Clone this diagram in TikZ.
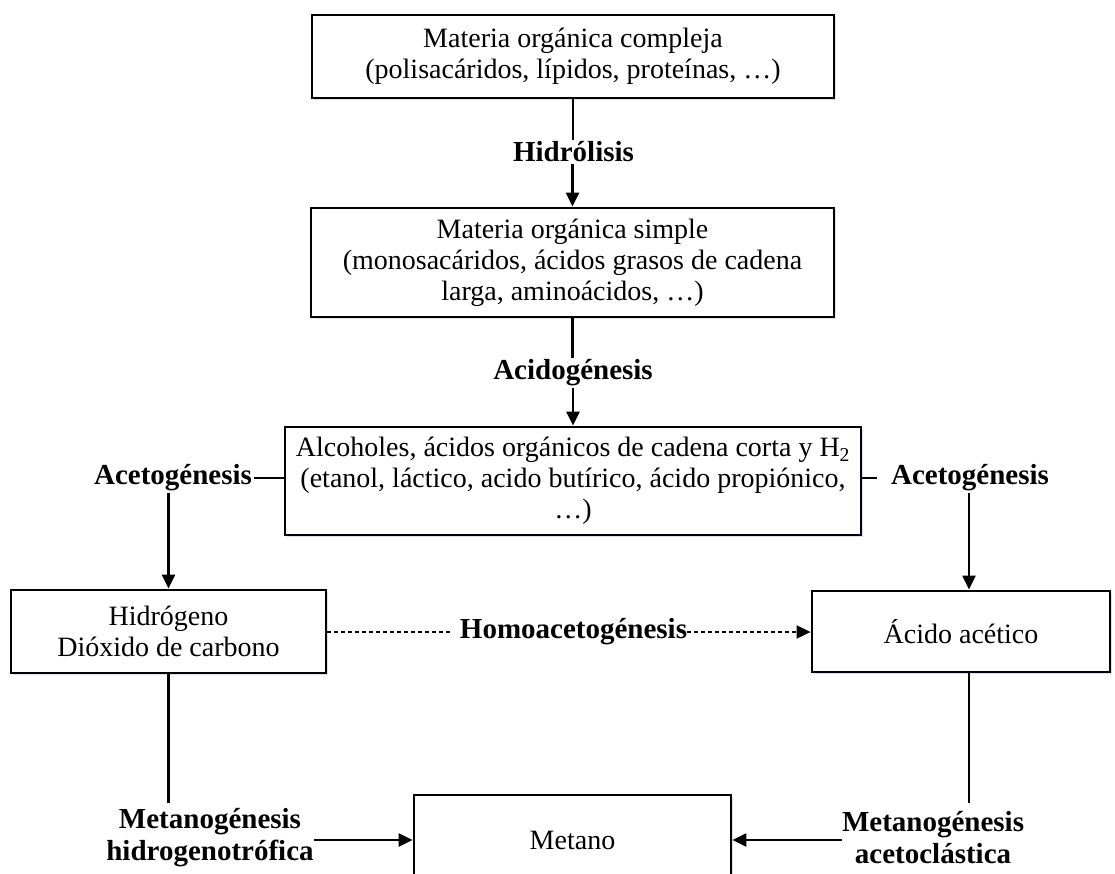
\documentclass[tikz,border=0pt]{standalone}
\usepackage{fontspec}
\setmainfont{Liberation Serif}
\usetikzlibrary{arrows.meta,shadows}
\newcommand\regfont{\fontsize{28}{31}\selectfont}
\newcommand\bldfont{\fontsize{29}{32}\selectfont\bfseries}
\begin{document}
\begin{tikzpicture}[x=1pt,y=-1pt,
  stagebox/.style={draw, line width=2.8pt, fill=white, align=center, font=\regfont, inner sep=0pt,
     drop shadow={shadow xshift=1.5pt, shadow yshift=-2pt, fill=blue!40!gray, opacity=0.18}},
  lbl/.style={font=\bldfont, inner sep=2pt, align=center},
  conn/.style={line width=2.3pt},
  arr/.style={conn, -{Triangle[length=14pt,width=13pt]}},
  dashline/.style={line width=1.8pt, dash pattern=on 4pt off 3pt},
  dasharr/.style={dashline, -{Triangle[length=14pt,width=13pt]}}]
\useasboundingbox (0,0) rectangle (1115,874);
\clip (0,0) rectangle (1115,874);
\fill[white] (0,0) rectangle (1115,874);

\node[stagebox, minimum width=522pt, minimum height=83pt] (b1) at (573,56.5)
  {Materia orgánica compleja\\(polisacáridos, lípidos, proteínas, …)};
\node[stagebox, minimum width=523pt, minimum height=109pt] (b2) at (572.5,262.5)
  {Materia orgánica simple\\(monosacáridos, ácidos grasos de cadena\\larga, aminoácidos, …)};
\node[stagebox, minimum width=576pt, minimum height=108pt] (b3) at (573,481)
  {Alcoholes, ácidos orgánicos de cadena corta y H\textsubscript{2}\\(etanol, láctico, acido butírico, ácido propiónico,\\…)};
\node[stagebox, minimum width=315pt, minimum height=83pt] (b4) at (168.5,631.5)
  {Hidrógeno\\Dióxido de carbono};
\node[stagebox, minimum width=298pt, minimum height=81pt] (b5) at (961,631.5)
  {Ácido acético};
\node[stagebox, minimum width=317pt, minimum height=90pt] (m) at (572.5,840)
  {Metano};

\node[lbl] (hid) at (573.5,152) {Hidrólisis};
\node[lbl] (aci) at (573,373) {Acidogénesis};
\node[lbl] (aL) at (173,478) {Acetogénesis};
\node[lbl] (aR) at (970,478) {Acetogénesis};
\node[lbl, inner sep=0pt] (hom) at (573.5,632) {Homoacetogénesis};
\node[lbl, inner sep=0pt] (mL) at (210,838) {Metanogénesis\\hidrogenotrófica};
\node[lbl, inner sep=0pt] (mR) at (933,838) {Metanogénesis\\acetoclástica};

\coordinate (eL) at (168.5,803);
\coordinate (eR) at (969,803);

\draw[conn] (b1.south) -- (b1.south |- hid.north);
\draw[arr] (hid.south -| b2.north) -- (b2.north);
\draw[conn] (b2.south) -- (b2.south |- aci.north);
\draw[arr] (aci.south -| b3.north) -- (b3.north);
\draw[conn] (aL.east) -- (aL.east -| b3.west);
\draw[conn] (b3.east |- aR.west) -- ([xshift=-12pt]aR.west);
\draw[arr] (aL.south -| b4.north) -- (b4.north);
\draw[arr] (aR.south -| eR) -- (eR |- b5.north);
\draw[dashline] (b4.east |- hom.west) -- ([xshift=-9pt]hom.west);
\draw[dasharr] (hom.east) -- (hom.east -| b5.west);
\draw[conn] (b4.south) -- (eL);
\draw[conn] (eR |- b5.south) -- (eR);
\draw[arr] (mL.east |- m.west) -- (m.west);
\draw[arr] (mR.west |- m.east) -- (m.east);
\end{tikzpicture}
\end{document}
